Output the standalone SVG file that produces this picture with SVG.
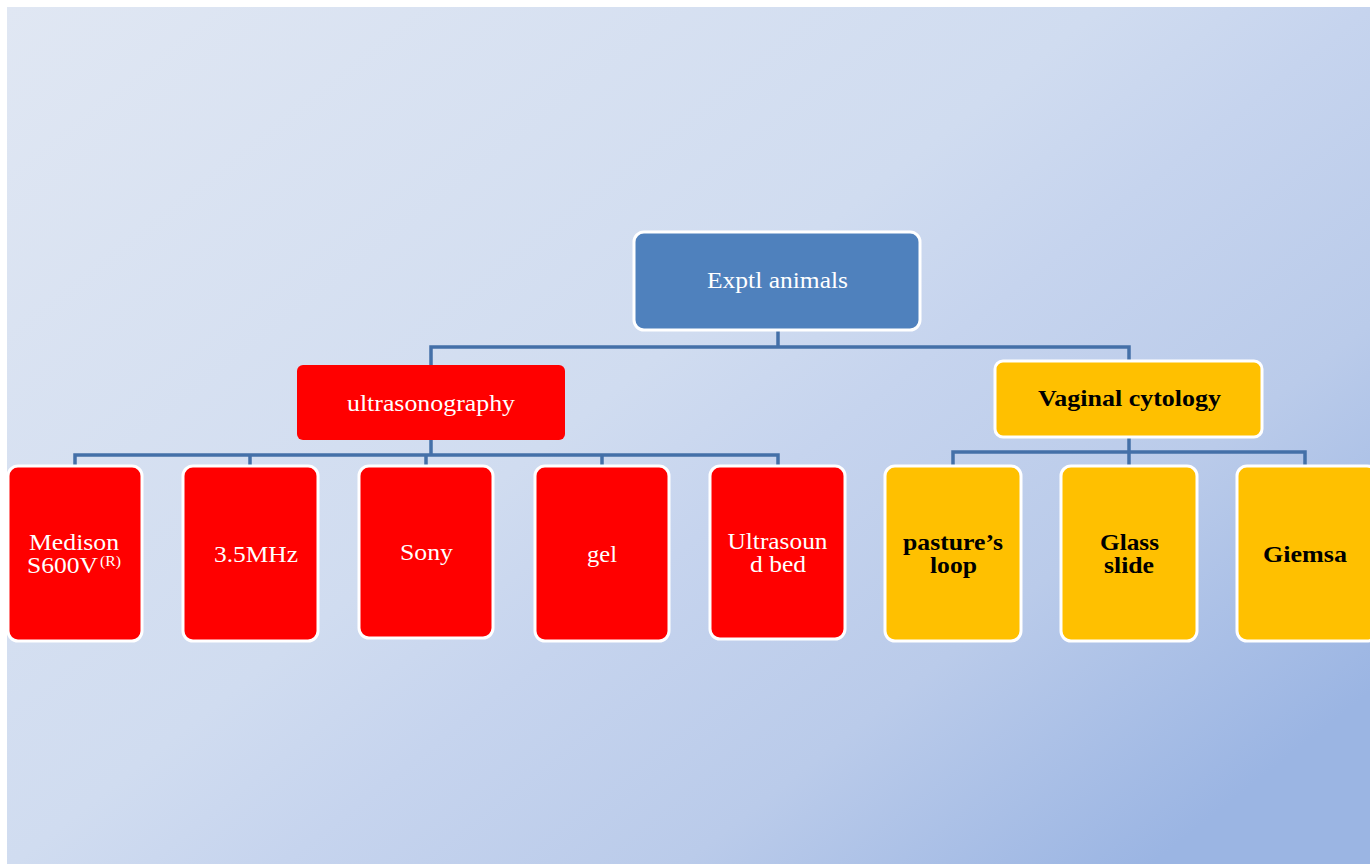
<svg xmlns="http://www.w3.org/2000/svg" width="1370" height="864" viewBox="0 0 1370 864">
<defs>
<linearGradient id="bg" x1="0" y1="0" x2="1" y2="0.8">
<stop offset="0" stop-color="#e0e7f3"/>
<stop offset="0.49" stop-color="#d0dcf0"/>
<stop offset="0.61" stop-color="#c6d4ee"/>
<stop offset="0.79" stop-color="#bacbea"/>
<stop offset="1" stop-color="#9bb5e3"/>
</linearGradient>
</defs>
<style>
.red{fill:#ff0000;stroke:#ffffff;stroke-width:3}
.yel{fill:#ffc000;stroke:#ffffff;stroke-width:3}
.conn{fill:none;stroke:#4470a8;stroke-width:3.5}
.tw{font-family:"Liberation Serif","Times New Roman",serif;font-size:22.5px;fill:#ffffff;text-anchor:middle}
.tb{font-family:"Liberation Serif","Times New Roman",serif;font-size:22.5px;font-weight:bold;fill:#000000;text-anchor:middle}
.sup{font-family:"Liberation Serif","Times New Roman",serif;font-size:14px;fill:#ffffff;text-anchor:start}
</style>
<rect x="0" y="0" width="1370" height="864" fill="#ffffff"/>
<rect x="7" y="7" width="1363" height="857" fill="url(#bg)"/>
<g id="connectors">
<path class="conn" d="M778 330 V347 M431 365 V347 H1129 V361"/>
<path class="conn" d="M431 440 V455 M75 466 V455 H778 V466 M250 455 V466 M426 455 V466 M602 455 V466"/>
<path class="conn" d="M1129 437 V452 M953 466 V452 H1305 V466 M1129 452 V466"/>
</g>
<g id="exptl">
<rect x="634" y="232" width="286" height="98" rx="10" fill="#4f81bd" stroke="#ffffff" stroke-width="3"/>
<text class="tw" x="777.5" y="288" textLength="141" lengthAdjust="spacingAndGlyphs">Exptl animals</text>
</g>
<g id="ultrasonography">
<rect x="297" y="365" width="268" height="75" rx="6" fill="#ff0000"/>
<text class="tw" x="431" y="411" textLength="168" lengthAdjust="spacingAndGlyphs">ultrasonography</text>
</g>
<g id="vaginal">
<rect x="995" y="361" width="267" height="76" rx="8" class="yel"/>
<text class="tb" x="1129.5" y="406" textLength="183" lengthAdjust="spacingAndGlyphs">Vaginal cytology</text>
</g>
<g id="medison">
<rect x="8" y="466" width="134" height="175" rx="10" class="red"/>
<text class="tw" x="74" y="550" textLength="90" lengthAdjust="spacingAndGlyphs">Medison</text>
<text class="tw" x="62.5" y="573" textLength="71" lengthAdjust="spacingAndGlyphs">S600V</text>
<text class="sup" x="100" y="566" textLength="21" lengthAdjust="spacingAndGlyphs">(R)</text>
</g>
<g id="mhz">
<rect x="183" y="466" width="135" height="175" rx="10" class="red"/>
<text class="tw" x="256" y="562" textLength="84" lengthAdjust="spacingAndGlyphs">3.5MHz</text>
</g>
<g id="sony">
<rect x="359" y="466" width="134" height="172" rx="10" class="red"/>
<text class="tw" x="426.5" y="560" textLength="53" lengthAdjust="spacingAndGlyphs">Sony</text>
</g>
<g id="gel">
<rect x="535" y="466" width="134" height="175" rx="10" class="red"/>
<text class="tw" x="602" y="562" textLength="30" lengthAdjust="spacingAndGlyphs">gel</text>
</g>
<g id="ultrasound-bed">
<rect x="710" y="466" width="135" height="173" rx="10" class="red"/>
<text class="tw" x="777.5" y="549" textLength="100" lengthAdjust="spacingAndGlyphs">Ultrasoun</text>
<text class="tw" x="778" y="572" textLength="56" lengthAdjust="spacingAndGlyphs">d bed</text>
</g>
<g id="pasture">
<rect x="885" y="466" width="136" height="175" rx="10" class="yel"/>
<text class="tb" x="953" y="550" textLength="100" lengthAdjust="spacingAndGlyphs">pasture’s</text>
<text class="tb" x="953.5" y="573" textLength="47" lengthAdjust="spacingAndGlyphs">loop</text>
</g>
<g id="glass">
<rect x="1061" y="466" width="136" height="175" rx="10" class="yel"/>
<text class="tb" x="1129.5" y="550" textLength="59" lengthAdjust="spacingAndGlyphs">Glass</text>
<text class="tb" x="1129" y="573" textLength="50" lengthAdjust="spacingAndGlyphs">slide</text>
</g>
<g id="giemsa">
<rect x="1237" y="466" width="140" height="175" rx="10" class="yel"/>
<text class="tb" x="1305" y="562" textLength="84" lengthAdjust="spacingAndGlyphs">Giemsa</text>
</g>
</svg>
